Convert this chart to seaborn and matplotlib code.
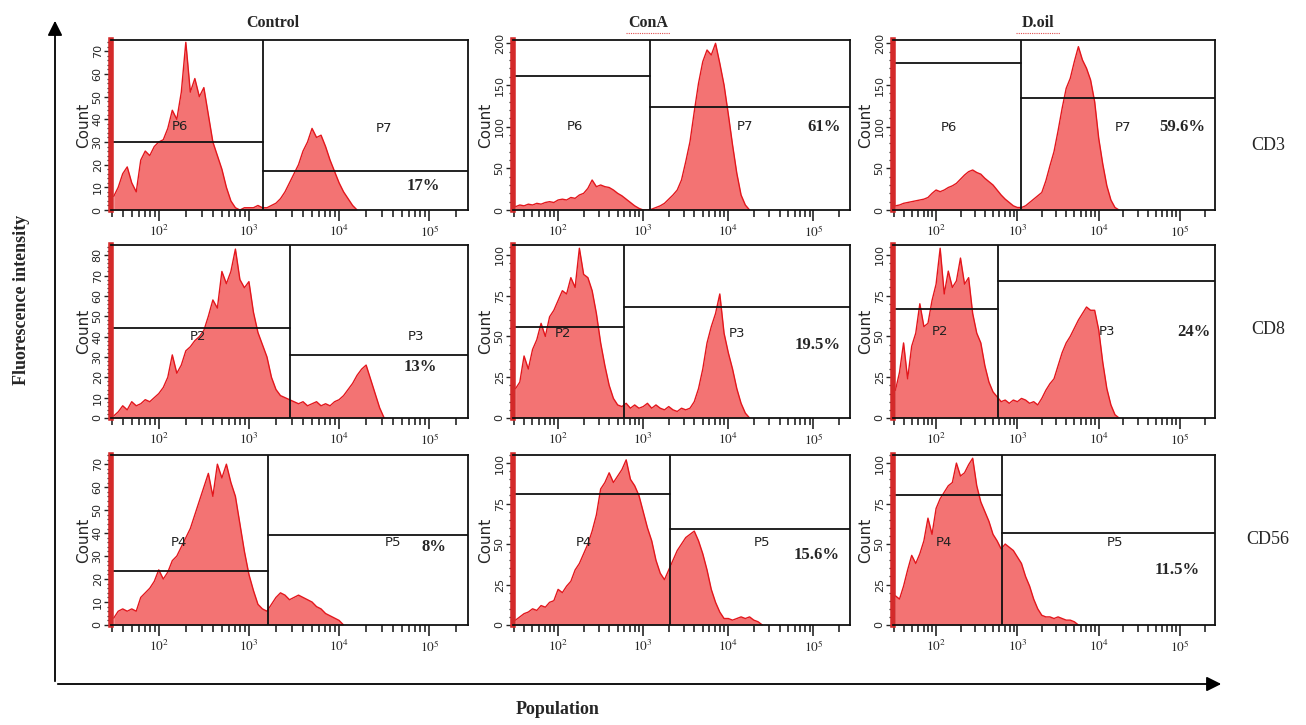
import numpy as np
import pandas as pd
import seaborn as sns
import matplotlib.pyplot as plt
from matplotlib.patches import FancyArrowPatch
from matplotlib.ticker import FixedLocator, MultipleLocator, NullFormatter

# histogram bins: log10 fluorescence, first bin at 1.50, width 0.05
log_start = 1.50
log_step = 0.05

cd3_control = [6, 10, 16, 19, 12, 8, 22, 26, 24, 28, 30, 31, 36, 44, 40, 52, 74, 52, 58, 50,
               54, 42, 30, 24, 18, 10, 4, 1, 0, 1, 1, 1, 2, 1, 1, 2, 3, 5, 8, 12,
               16, 20, 26, 30, 36, 32, 33, 28, 22, 17, 12, 8, 5, 2, 0]
cd3_cona = [4, 6, 5, 7, 6, 8, 7, 9, 10, 9, 12, 13, 12, 15, 14, 18, 20, 26, 36, 28,
            30, 28, 27, 24, 20, 17, 13, 9, 5, 2, 0, 0, 1, 3, 5, 8, 13, 18, 24, 36,
            58, 82, 118, 152, 178, 192, 186, 200, 176, 150, 115, 78, 44, 18, 6, 0]
cd3_doil = [5, 6, 8, 9, 10, 11, 12, 13, 15, 20, 24, 22, 24, 27, 29, 32, 37, 42, 46, 48,
            45, 43, 38, 34, 30, 24, 18, 13, 9, 5, 3, 3, 5, 9, 13, 17, 21, 35, 53, 70,
            95, 122, 146, 158, 178, 196, 180, 170, 156, 130, 86, 55, 29, 12, 3, 0]
cd8_control = [1, 3, 6, 4, 8, 6, 7, 9, 8, 10, 12, 15, 20, 31, 22, 26, 33, 35, 38, 40,
               43, 50, 58, 54, 72, 66, 72, 83, 68, 64, 67, 52, 42, 36, 30, 20, 14, 11, 10, 9,
               8, 7, 8, 6, 7, 8, 6, 7, 6, 8, 9, 11, 14, 17, 21, 24, 26, 19, 12, 5, 0]
cd8_cona = [18, 22, 38, 30, 42, 48, 58, 50, 62, 66, 72, 78, 76, 86, 80, 104, 88, 86, 78, 64,
            46, 32, 20, 12, 8, 7, 9, 6, 8, 6, 7, 9, 6, 8, 6, 5, 7, 5, 4, 6,
            5, 6, 10, 18, 30, 46, 56, 64, 76, 52, 40, 30, 18, 9, 3, 0]
cd8_doil = [17, 28, 46, 24, 44, 52, 70, 56, 58, 72, 82, 104, 76, 90, 80, 84, 98, 82, 86, 64,
            52, 46, 32, 22, 16, 13, 10, 11, 9, 11, 10, 12, 11, 9, 10, 8, 12, 17, 21, 24,
            32, 40, 46, 50, 55, 60, 64, 68, 66, 66, 54, 34, 18, 8, 2, 0]
cd56_control = [3, 6, 7, 6, 7, 6, 12, 14, 16, 19, 24, 20, 23, 28, 30, 34, 38, 42, 48, 54,
                60, 66, 56, 70, 64, 70, 62, 56, 44, 32, 22, 15, 9, 7, 6, 9, 12, 14, 13, 11,
                12, 13, 12, 11, 10, 8, 7, 5, 4, 3, 2, 0]
cd56_cona = [3, 5, 7, 8, 10, 9, 12, 11, 14, 15, 22, 20, 24, 27, 34, 38, 44, 50, 58, 68,
             84, 88, 94, 88, 92, 96, 102, 90, 86, 80, 70, 60, 52, 40, 32, 28, 34, 40, 46, 50,
             54, 56, 58, 52, 44, 34, 22, 14, 8, 4, 4, 3, 4, 5, 4, 5, 3, 2, 0]
cd56_doil = [18, 16, 24, 34, 43, 38, 44, 52, 66, 56, 72, 78, 82, 86, 88, 100, 92, 94, 99, 103,
             86, 76, 70, 64, 56, 52, 47, 50, 48, 46, 42, 38, 30, 24, 16, 10, 6, 5, 5, 4,
             5, 4, 3, 3, 2, 0]

counts = [[cd3_control, cd3_cona, cd3_doil],
          [cd8_control, cd8_cona, cd8_doil],
          [cd56_control, cd56_cona, cd56_doil]]

columns = ['Control', 'ConA', 'D.oil']
markers = ['CD3', 'CD8', 'CD56']
gate_names = [('P6', 'P7'), ('P2', 'P3'), ('P4', 'P5')]
percent = [['17%', '61%', '59.6%'], ['13%', '19.5%', '24%'], ['8%', '15.6%', '11.5%']]

# gates: split point (log10), left/right marker heights (counts)
gate_split = [[3.16, 3.08, 3.05], [3.45, 2.77, 2.76], [3.21, 3.32, 2.81]]
gate_left = [[30, 161, 177], [44, 56, 67], [23.5, 81, 80]]
gate_right = [[17.4, 124, 134], [31, 68, 84], [39, 59, 57]]

y_max = [[75, 204, 204], [85, 106, 106], [74, 105, 105]]
y_step = [[10, 50, 50], [10, 25, 25], [10, 25, 25]]

# label anchors (log10 x, count y)
left_lbl = [[(2.23, 37), (2.2, 100), (2.16, 99)],
            [(2.43, 40), (2.06, 52), (2.05, 53)],
            [(2.22, 36), (2.3, 51), (2.1, 51)]]
right_lbl = [[(4.5, 36), (4.2, 100), (4.3, 99)],
             [(4.85, 40), (4.1, 52), (4.1, 53)],
             [(4.6, 36), (4.4, 51), (4.2, 51)]]
pct_lbl = [[(4.93, 10.6), (5.13, 100), (5.03, 100)],
           [(4.9, 25), (5.05, 45), (5.17, 53)],
           [(5.05, 34), (5.04, 43), (4.96, 34)]]

sns.set_style('white')
plt.rcParams['mathtext.fontset'] = 'stix'
serif = 'Liberation Serif'

W, H = 1306, 725
fig = plt.figure(figsize=(W / 100, H / 100), dpi=100)

col_left = [111, 513, 893]
col_right = [468, 850, 1215]
row_top = [40, 245, 455]
row_bot = [210, 418, 625]

fill_c = '#f37373'
line_c = '#e3161c'
xmin, xmax = 10 ** 1.47, 10 ** 5.43

for r in range(3):
    for c in range(3):
        ax = fig.add_axes([col_left[c] / W, 1 - row_bot[r] / H,
                           (col_right[c] - col_left[c]) / W, (row_bot[r] - row_top[r]) / H])
        y = np.array(counts[r][c], dtype=float)
        logx = log_start + log_step * np.arange(len(y))
        df = pd.DataFrame({'fl': 10 ** logx, 'count': y})
        ax.fill_between(df['fl'], 0, df['count'], color=fill_c, lw=0)
        sns.lineplot(data=df, x='fl', y='count', ax=ax, color=line_c, lw=1.0)
        ax.set_xscale('log')
        ax.set_xlim(xmin, xmax)
        ax.set_ylim(0, y_max[r][c])

        # gates
        sp = 10 ** gate_split[r][c]
        ax.axvline(sp, color='#111111', lw=1.3)
        ax.plot([xmin, sp], [gate_left[r][c]] * 2, color='#111111', lw=1.3)
        ax.plot([sp, xmax], [gate_right[r][c]] * 2, color='#111111', lw=1.3)

        lx, ly = left_lbl[r][c]
        ax.text(10 ** lx, ly, gate_names[r][0], fontsize=9.5, ha='center', va='center',
                color='#222222')
        rx, ry = right_lbl[r][c]
        ax.text(10 ** rx, ry, gate_names[r][1], fontsize=9.5, ha='center', va='center',
                color='#222222')
        px_, py_ = pct_lbl[r][c]
        ax.text(10 ** px_, py_, percent[r][c], fontsize=12, fontweight='bold',
                family=serif, ha='center', va='center')

        for s in ax.spines.values():
            s.set_color('#111111')
            s.set_linewidth(1.3)
        ax.spines['left'].set_color('#d42a2a')
        ax.spines['left'].set_linewidth(4)

        ax.xaxis.set_major_locator(FixedLocator([1e2, 1e3, 1e4, 1e5]))
        ax.set_xticklabels([r'$10^2$', r'$10^3$', r'$10^4$', r'$10^5$'])
        minors = [m * 10 ** d for d in range(1, 6) for m in range(2, 10)]
        ax.xaxis.set_minor_locator(FixedLocator(minors))
        ax.xaxis.set_minor_formatter(NullFormatter())
        ax.yaxis.set_major_locator(MultipleLocator(y_step[r][c]))
        ax.yaxis.set_minor_locator(MultipleLocator(y_step[r][c] / 5))
        ax.tick_params(axis='x', which='major', direction='out', length=8, width=1.2,
                       labelsize=9.5, pad=2, bottom=True)
        ax.tick_params(axis='x', which='minor', direction='out', length=5, width=1.2, bottom=True)
        ax.tick_params(axis='y', which='major', direction='out', length=5, width=1,
                       labelsize=8, pad=1, labelrotation=90, left=True)
        ax.tick_params(axis='y', which='minor', direction='out', length=3, width=0.9, left=True)
        for t in ax.get_yticklabels():
            t.set_va('center')
        ax.set_xlabel('')
        ax.set_ylabel('Count', fontsize=11, labelpad=1)

# column and row titles
title_x = [273, 648, 1038]
for c, name in enumerate(columns):
    fig.text(title_x[c] / W, 1 - 23 / H, name, family=serif, fontsize=11.5,
             fontweight='bold', ha='center', va='center')
# red spell-check underline under two of the titles
for c in (1, 2):
    x0 = (title_x[c] - 22) / W
    x1 = (title_x[c] + 22) / W
    fig.add_artist(plt.Line2D([x0, x1], [1 - 33 / H] * 2, transform=fig.transFigure,
                              color='#e05050', lw=0.8, ls=(0, (1, 1))))
row_y = [145, 330, 540]
for r, name in enumerate(markers):
    fig.text(1268 / W, 1 - row_y[r] / H, name, family=serif, fontsize=13,
             ha='center', va='center')

fig.text(22 / W, 1 - 300 / H, 'Fluorescence intensity', family=serif, fontsize=13,
         fontweight='bold', rotation=90, ha='center', va='center')
fig.text(558 / W, 1 - 710 / H, 'Population', family=serif, fontsize=13,
         fontweight='bold', ha='center', va='center')

for start, end in [((55, 684), (55, 18)), ((55, 684), (1224, 684))]:
    fig.add_artist(FancyArrowPatch((start[0] / W, 1 - start[1] / H), (end[0] / W, 1 - end[1] / H),
                                   transform=fig.transFigure, arrowstyle='-|>',
                                   mutation_scale=22, lw=1.3, color='black'))

fig.savefig('out.png', dpi=100, facecolor='white')
